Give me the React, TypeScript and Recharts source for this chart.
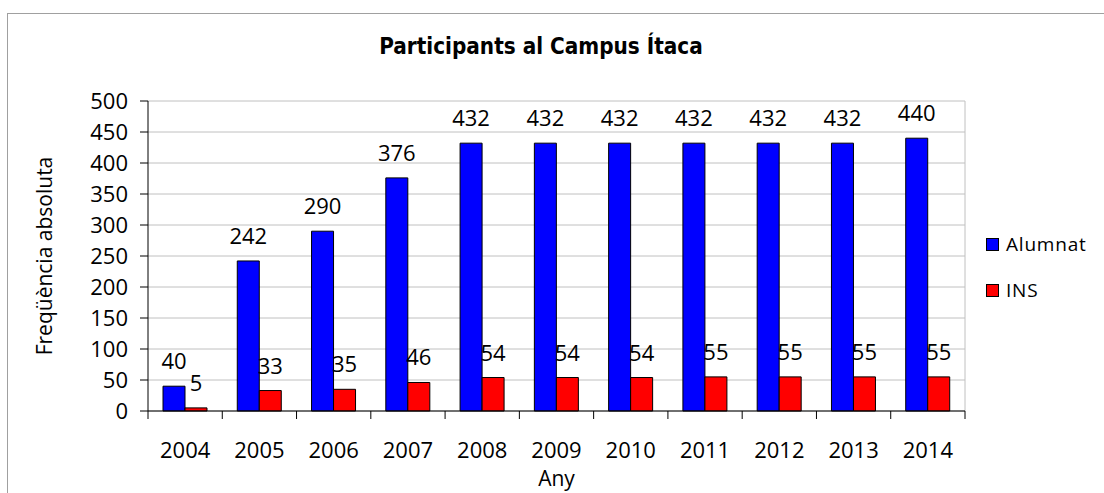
import React from 'react';
import { Bar, BarChart, CartesianGrid, LabelList, XAxis, YAxis } from 'recharts';

const years = ['2004', '2005', '2006', '2007', '2008', '2009', '2010', '2011', '2012', '2013', '2014'];
const alumnat = [40, 242, 290, 376, 432, 432, 432, 432, 432, 432, 440];
const ins = [5, 33, 35, 46, 54, 54, 54, 55, 55, 55, 55];
const yTicks = [0, 50, 100, 150, 200, 250, 300, 350, 400, 450, 500];

const series = [
  { key: 'alumnat', name: 'Alumnat', color: '#0000ff' },
  { key: 'ins', name: 'INS', color: '#ff0000' },
];

const data = years.map((y, i) => ({ year: y, alumnat: alumnat[i], ins: ins[i] }));

const FONT = '"Open Sans", sans-serif';
const plotLeft = 148;
const plotRight = 965;
const band = (plotRight - plotLeft) / years.length;

// Excel puts the tick marks between categories, not under them
function YearTick(props: any) {
  const { x, y, payload, index } = props;
  const left = x - band / 2;
  return (
    <g>
      <line x1={left} y1={y} x2={left} y2={y + 8} stroke="#000" />
      {index === years.length - 1 && (
        <line x1={x + band / 2} y1={y} x2={x + band / 2} y2={y + 8} stroke="#000" />
      )}
      <text x={x} y={y + 47} textAnchor="middle" fontSize={22} fontFamily={FONT} fill="#000">
        {payload.value}
      </text>
    </g>
  );
}

export default function App() {
  return (
    <div style={{ position: 'absolute', left: 0, top: 0, width: 1104, height: 493, background: '#fff', overflow: 'hidden', fontFamily: FONT }}>
      <div style={{ position: 'absolute', left: 7, top: 13, width: 1200, height: 600, borderLeft: '1px solid #a0a0a0', borderTop: '1px solid #a0a0a0' }} />

      <div style={{ position: 'absolute', left: 341, width: 400, top: 31, textAlign: 'center', fontFamily: '"Liberation Sans Narrow", "DejaVu Sans Condensed", sans-serif', fontWeight: 'bold', fontSize: 22.3, lineHeight: '30px', color: '#000' }}>
        Participants al Campus Ítaca
      </div>

      <div style={{ position: 'absolute', left: 0, top: 0 }}>
        <BarChart
          width={1104}
          height={493}
          data={data}
          margin={{ top: 101, right: 1104 - plotRight, bottom: 0, left: 8 }}
          barSize={22}
          barGap={0}
        >
          <CartesianGrid stroke="#c0c0c0" vertical={true} verticalPoints={[plotRight]} />
          <XAxis
            dataKey="year"
            height={82}
            axisLine={{ stroke: '#000' }}
            tickLine={false}
            tickSize={0}
            tickMargin={0}
            tick={<YearTick />}
            interval={0}
            label={{ value: 'Any', position: 'insideBottom', offset: 7, fontSize: 21, fontFamily: FONT, fill: '#000' }}
          />
          <YAxis
            width={140}
            domain={[0, 500]}
            ticks={yTicks}
            interval={0}
            axisLine={{ stroke: '#000' }}
            tickLine={{ stroke: '#000' }}
            tickSize={8}
            tickMargin={12}
            tick={{ fontSize: 22, fontFamily: FONT, fill: '#000' }}
            label={{ value: 'Freqüència absoluta', angle: -90, position: 'insideLeft', offset: 37, fontSize: 21, fontFamily: FONT, fill: '#000', style: { textAnchor: 'middle' } }}
          />
          {series.map((s) => (
            <Bar key={s.key} dataKey={s.key} name={s.name} fill={s.color} stroke="#000" strokeWidth={1} isAnimationActive={false}>
              <LabelList dataKey={s.key} position="top" offset={17} fill="#000" fontSize={22} fontFamily={FONT} />
            </Bar>
          ))}
        </BarChart>
      </div>

      {series.map((s, i) => (
        <div key={s.key} style={{ position: 'absolute', left: 986, top: 231 + i * 46, height: 26, display: 'flex', alignItems: 'center' }}>
          <span style={{ width: 11, height: 11, background: s.color, border: '1px solid #000', display: 'inline-block' }} />
          <span style={{ marginLeft: 7, fontSize: 19, letterSpacing: 0.8, color: '#000' }}>{s.name}</span>
        </div>
      ))}
    </div>
  );
}
